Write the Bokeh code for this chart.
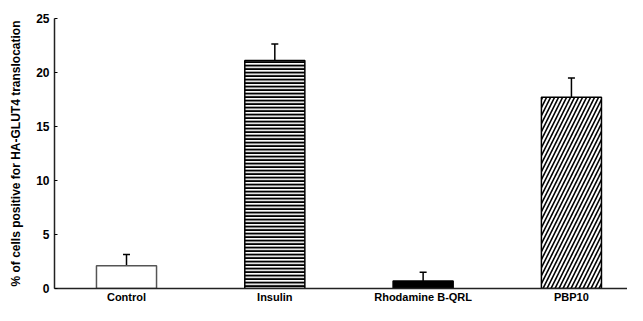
from bokeh.plotting import figure
from bokeh.models import ColumnDataSource, Range1d, Whisker, TeeHead, FixedTicker
from bokeh.embed import file_html
from bokeh.resources import INLINE

categories = ["Control", "Insulin", "Rhodamine B-QRL", "PBP10"]
values = [2.1, 21.1, 0.7, 17.7]
errors = [1.05, 1.55, 0.8, 1.8]
y_ticks = [0, 5, 10, 15, 20, 25]
y_label = "% of cells positive for HA-GLUT4 translocation"

fills = ["white", "white", "black", "white"]
hatches = [" ", "-", " ", "/"]
hatch_scales = [1, 3.5, 1, 8]
hatch_weights = [1, 2.3, 1, 1.6]
outline_colors = ["#555555", "black", "black", "black"]

xs = list(range(1, len(categories) + 1))
src = ColumnDataSource(dict(
    x=xs, top=values,
    upper=[v + e for v, e in zip(values, errors)],
    lower=[v - e for v, e in zip(values, errors)],
    fill=fills, hatch=hatches, hs=hatch_scales, hw=hatch_weights, lc=outline_colors,
))

p = figure(x_range=Range1d(0.5145, 4.378), y_range=Range1d(0, 25),
           width=627, height=305, output_backend="svg", toolbar_location=None,
           min_border_left=54, min_border_right=0, min_border_top=18, min_border_bottom=15)

p.vbar(x="x", top="top", width=0.405, source=src, fill_color="fill", line_color="lc",
       line_width=1.5, hatch_pattern="hatch", hatch_scale="hs", hatch_weight="hw",
       hatch_color="black")

w = Whisker(base="x", upper="upper", lower="lower", source=src,
            line_color="black", line_width=1.5,
            upper_head=TeeHead(size=7, line_color="black", line_width=1.5),
            lower_head=TeeHead(size=7, line_color="black", line_width=1.5))
p.add_layout(w)

p.xgrid.visible = False
p.ygrid.visible = False
p.outline_line_color = None
p.background_fill_color = "white"

p.yaxis.ticker = FixedTicker(ticks=y_ticks)
p.yaxis.axis_label = y_label
p.yaxis.axis_label_text_font = "Liberation Sans"
p.yaxis.axis_label_text_font_style = "bold"
p.yaxis.axis_label_text_font_size = "12px"
p.yaxis.axis_label_text_color = "black"
p.yaxis.axis_label_standoff = 10
p.yaxis.major_label_text_font = "Liberation Sans"
p.yaxis.major_label_text_font_style = "bold"
p.yaxis.major_label_text_font_size = "12px"
p.yaxis.major_label_text_color = "black"
p.yaxis.major_label_standoff = 5
p.yaxis.major_tick_in = 3
p.yaxis.major_tick_out = 0
p.yaxis.major_tick_line_color = "black"
p.yaxis.minor_tick_line_color = None
p.yaxis.axis_line_color = "#222222"
p.yaxis.axis_line_width = 1.5

p.xaxis.ticker = FixedTicker(ticks=xs)
p.xaxis.major_label_overrides = {x: c for x, c in zip(xs, categories)}
p.xaxis.major_tick_line_color = None
p.xaxis.minor_tick_line_color = None
p.xaxis.major_tick_in = 0
p.xaxis.major_tick_out = 0
p.xaxis.major_label_text_font = "Liberation Sans"
p.xaxis.major_label_text_font_style = "bold"
p.xaxis.major_label_text_font_size = "11px"
p.xaxis.major_label_text_color = "black"
p.xaxis.major_label_standoff = 2
p.xaxis.axis_line_color = "#222222"
p.xaxis.axis_line_width = 1.5

open("out.html", "w").write(file_html(p, INLINE))
